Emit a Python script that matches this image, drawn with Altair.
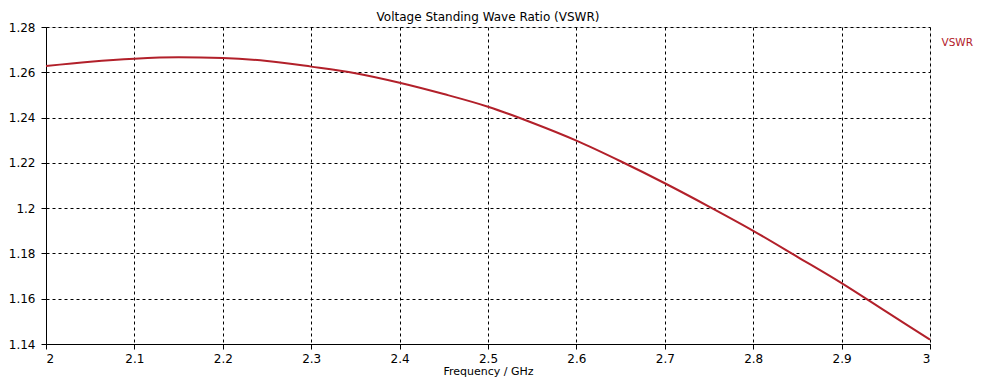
import altair as alt
import pandas as pd

freq = [2.0, 2.05, 2.1, 2.15, 2.2, 2.25, 2.3, 2.35, 2.4, 2.45, 2.5, 2.55,
        2.6, 2.65, 2.7, 2.75, 2.8, 2.85, 2.9, 2.95, 3.0]
vswr = [1.2628, 1.2647, 1.2660, 1.2666, 1.2663, 1.2650, 1.2625, 1.2596,
        1.2554, 1.2504, 1.2448, 1.2377, 1.2298, 1.2207, 1.2110, 1.2007,
        1.1900, 1.1785, 1.1669, 1.1544, 1.1419]
series = ["VSWR"] * len(freq)

x_ticks = [2.0, 2.1, 2.2, 2.3, 2.4, 2.5, 2.6, 2.7, 2.8, 2.9, 3.0]
y_ticks = [1.14, 1.16, 1.18, 1.20, 1.22, 1.24, 1.26, 1.28]

df = pd.DataFrame({"freq": freq, "vswr": vswr, "series": series})

FONT = "DejaVu Sans"
RED = "#b2202a"

chart = alt.Chart(df).mark_line(strokeWidth=2, interpolate="monotone").encode(
    x=alt.X("freq:Q",
            scale=alt.Scale(domain=[2, 3], nice=False, zero=False),
            axis=alt.Axis(values=x_ticks, title="Frequency / GHz",
                          labelExpr="format(datum.value, '~g')",
                          grid=True, gridColor="black", gridDash=[3, 3],
                          gridOpacity=1, domainColor="black", tickColor="black",
                          tickSize=5, labelPadding=4, titlePadding=1,
                          labelFont=FONT, titleFont=FONT, labelFontSize=12,
                          titleFontSize=11, titleFontWeight="normal",
                          labelColor="black", titleColor="black")),
    y=alt.Y("vswr:Q",
            scale=alt.Scale(domain=[1.14, 1.28], nice=False, zero=False),
            axis=alt.Axis(values=y_ticks, title=None,
                          labelExpr="format(datum.value, '~g')",
                          grid=True, gridColor="black", gridDash=[3, 3],
                          gridOpacity=1, domainColor="black", tickColor="black",
                          tickSize=5, labelPadding=6,
                          labelFont=FONT, labelFontSize=12, labelColor="black")),
    color=alt.Color("series:N",
                    scale=alt.Scale(domain=["VSWR"], range=[RED]),
                    legend=alt.Legend(orient="none", legendX=885, legendY=11,
                                      title=None, symbolSize=0, symbolOpacity=0,
                                      symbolStrokeWidth=0, labelOffset=0,
                                      labelFont=FONT, labelFontSize=10.5,
                                      labelColor=RED)),
).properties(
    width=884,
    height=317,
    title=alt.Title("Voltage Standing Wave Ratio (VSWR)", font=FONT, fontSize=12,
                    fontWeight="normal", color="black", offset=-3),
    autosize=alt.AutoSizeParams(type="none"),
    padding={"left": 38, "top": 19, "right": 44, "bottom": 33},
).configure_view(
    stroke="black", strokeWidth=1
).configure(background="white")

chart.save("out.html", embed_options={"renderer": "svg", "actions": False})
